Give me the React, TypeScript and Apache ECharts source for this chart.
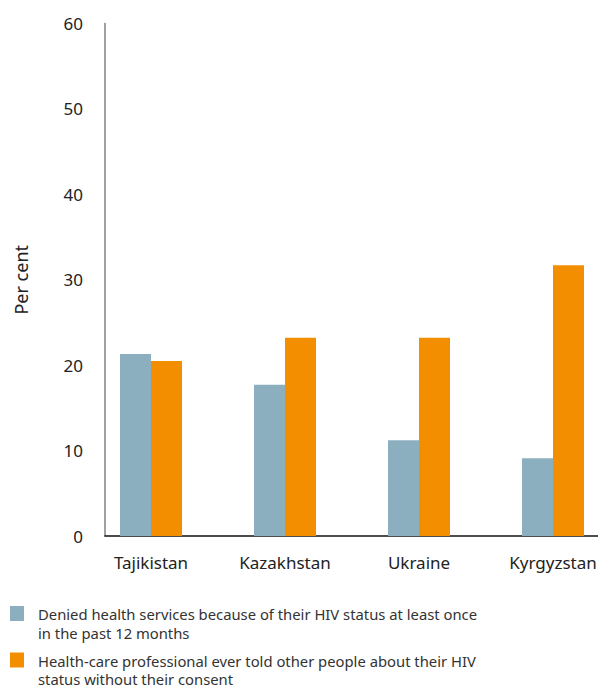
import React, { useEffect, useRef } from "react";
import * as echarts from "echarts";

const categories = ["Tajikistan", "Kazakhstan", "Ukraine", "Kyrgyzstan"];
const deniedValues = [21.3, 17.7, 11.2, 9.1];
const disclosedValues = [20.5, 23.2, 23.2, 31.7];
const seriesNames = [
  "Denied health services because of their HIV status at least once\nin the past 12 months",
  "Health-care professional ever told other people about their HIV\nstatus without their consent",
];
const yTicks = [0, 10, 20, 30, 40, 50, 60];
const colors = ["#8cafc0", "#f28e00"];

const FONT = "'Noto Sans', 'Open Sans', sans-serif";

export default function App() {
  const ref = useRef<HTMLDivElement>(null);
  useEffect(() => {
    if (!ref.current) return;
    const chart = echarts.init(ref.current, null, { renderer: "svg" });
    const top = 23.5;
    const height = 512.5;
    chart.setOption({
      animation: false,
      textStyle: { fontFamily: FONT },
      grid: [
        { left: 105, width: 493, top, height, outerBoundsMode: "none", containLabel: false },
        { left: 84, width: 536, top, height, outerBoundsMode: "none", containLabel: false },
      ],
      xAxis: [
        {
          gridIndex: 0,
          type: "category",
          data: categories,
          axisLine: { show: true, lineStyle: { color: "#111", width: 1.5 } },
          axisTick: { show: false },
          axisLabel: { show: false },
        },
        {
          gridIndex: 1,
          type: "category",
          data: categories,
          axisLine: { show: false },
          axisTick: { show: false },
          axisLabel: {
            margin: 18,
            fontSize: 17,
            color: "#222",
            fontFamily: FONT,
          },
        },
      ],
      yAxis: [
        {
          gridIndex: 0,
          type: "value",
          min: yTicks[0],
          max: yTicks[yTicks.length - 1],
          interval: 10,
          axisLine: { show: true, lineStyle: { color: "#808080", width: 1.5 } },
          axisTick: { show: false },
          splitLine: { show: false },
          axisLabel: { margin: 22, fontSize: 17, color: "#222", fontFamily: FONT },
          name: "Per cent",
          nameLocation: "middle",
          nameGap: 75,
          nameTextStyle: { fontSize: 18, color: "#222", fontFamily: FONT },
        },
        {
          gridIndex: 1,
          type: "value",
          min: yTicks[0],
          max: yTicks[yTicks.length - 1],
          interval: 10,
          show: false,
        },
      ],
      series: [
        {
          type: "bar",
          name: seriesNames[0],
          xAxisIndex: 1,
          yAxisIndex: 1,
          data: deniedValues,
          barWidth: 31,
          barGap: "0%",
          itemStyle: { color: colors[0] },
        },
        {
          type: "bar",
          name: seriesNames[1],
          xAxisIndex: 1,
          yAxisIndex: 1,
          data: disclosedValues,
          barWidth: 31,
          barGap: "0%",
          itemStyle: { color: colors[1] },
        },
      ],
      graphic: seriesNames.map((name, i) => ({
        type: "group",
        left: 10,
        top: 605 + i * 46.5,
        children: [
          { type: "rect", shape: { x: 0, y: 0, width: 14, height: 15 }, style: { fill: colors[i] } },
          {
            type: "text",
            x: 28,
            y: -1,
            style: {
              text: name,
              fontSize: 14.8,
              lineHeight: 18.5,
              fill: "#333",
              fontFamily: FONT,
              verticalAlign: "top",
            },
          },
        ],
      })),
    });
    return () => chart.dispose();
  }, []);
  return <div ref={ref} style={{ width: 598, height: 688, position: "absolute", left: 0, top: 0 }} />;
}
